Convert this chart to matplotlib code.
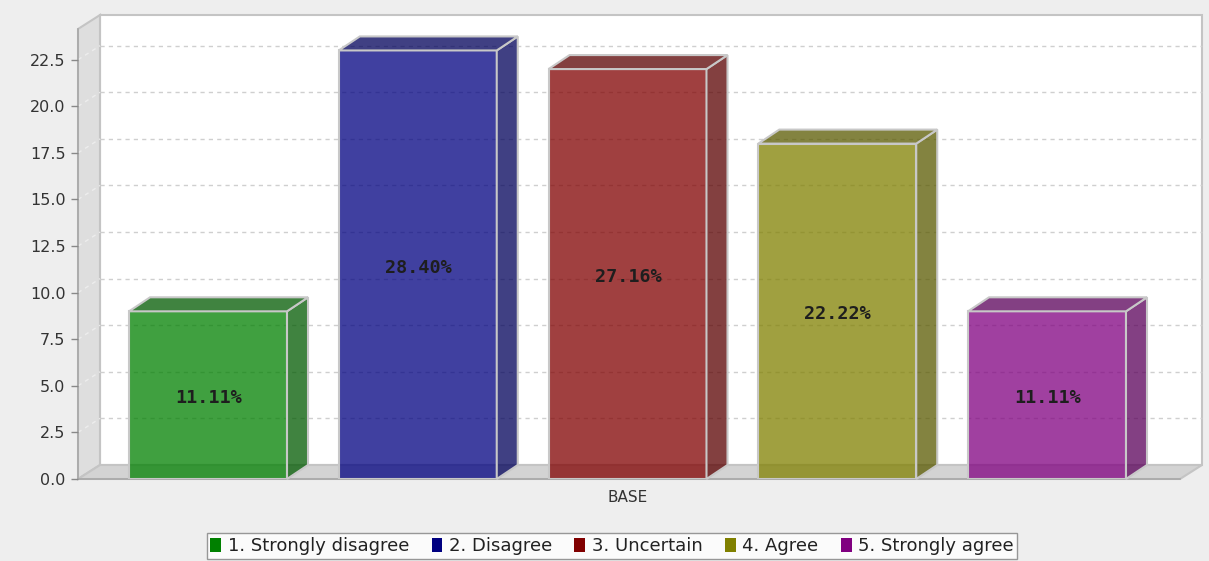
import matplotlib
matplotlib.use("Agg")
import matplotlib.pyplot as plt
from matplotlib.patches import Polygon, Patch
from matplotlib.colors import to_rgba
import matplotlib.transforms as mtransforms
import numpy as np

# ---- data ----
category = "BASE"
series_names = ["1. Strongly disagree", "2. Disagree", "3. Uncertain", "4. Agree", "5. Strongly agree"]
values = [9, 23, 22, 18, 9]
series_colors = ["#008000", "#000080", "#800000", "#808000", "#800080"]
y_ticks = [0.0, 2.5, 5.0, 7.5, 10.0, 12.5, 15.0, 17.5, 20.0, 22.5]

total = sum(values)
pct_labels = ["{:.2f}%".format(v / total * 100) for v in values]

W, H = 1209, 561
fig = plt.figure(figsize=(W / 100, H / 100), dpi=100)
fig.patch.set_facecolor("#EEEEEE")

# front plane of the 3D plot
ax_l, ax_r, ax_b, ax_t = 78, 1180, 479, 29
ax = fig.add_axes([ax_l / W, (H - ax_b) / H, (ax_r - ax_l) / W, (ax_b - ax_t) / H])
ax.patch.set_visible(False)
for s in ax.spines.values():
    s.set_visible(False)

x0, x1 = -0.62, 4.634
ymax = 24.15
ax.set_xlim(x0, x1)
ax.set_ylim(0, ymax)

ddx = 21 * (x1 - x0) / (ax_r - ax_l)
ddy = 14 * ymax / (ax_b - ax_t)
wall_ddx = 22 * (x1 - x0) / (ax_r - ax_l)

edge_gray = "#C4C4C4"

# back wall
ax.add_patch(Polygon([(x0 + wall_ddx, ddy), (x1 + wall_ddx, ddy), (x1 + wall_ddx, ymax + ddy),
                      (x0 + wall_ddx, ymax + ddy)], closed=True, facecolor="white",
                     edgecolor=edge_gray, lw=1.5, zorder=0.3, clip_on=False))
# left wall
ax.add_patch(Polygon([(x0, 0), (x0 + wall_ddx, ddy), (x0 + wall_ddx, ymax + ddy), (x0, ymax)],
                     closed=True, facecolor="#DEDEDE", edgecolor=edge_gray, lw=1.5,
                     zorder=0.4, clip_on=False))
# floor
ax.add_patch(Polygon([(x0, 0), (x1, 0), (x1 + wall_ddx, ddy), (x0 + wall_ddx, ddy)],
                     closed=True, facecolor="#D3D3D3", edgecolor=edge_gray, lw=1.5,
                     zorder=0.5, clip_on=False))

# gridlines
for v in y_ticks[1:]:
    ax.plot([x0 + wall_ddx, x1 + wall_ddx], [v + ddy, v + ddy], color="#CFCFCF", lw=1,
            ls=(0, (3, 3)), zorder=0.6, clip_on=False)
    ax.plot([x0, x0 + wall_ddx], [v, v + ddy], color="#EDEDED", lw=1,
            ls=(0, (3, 3)), zorder=0.6, clip_on=False)

# front axis lines
ax.plot([x0, x0], [0, ymax], color="#A8A8A8", lw=1.2, zorder=0.7, clip_on=False)
ax.plot([x0, x1], [0, 0], color="#A8A8A8", lw=1.2, zorder=0.7, clip_on=False)

# bars
width = 0.753
xs = np.arange(len(values))
alpha = 0.75
face = [to_rgba(c, alpha) for c in series_colors]
ax.bar(xs, values, width=width, color=face, edgecolor="#C8C8C8", linewidth=1.5, zorder=2)

def darker(c, f=0.7):
    r, g, b, _ = to_rgba(c)
    return (r * f, g * f, b * f, alpha)

for xi, h, c in zip(xs, values, series_colors):
    left, right = xi - width / 2, xi + width / 2
    ax.add_patch(Polygon([(right, 0), (right + ddx, ddy), (right + ddx, h + ddy), (right, h)],
                         closed=True, facecolor=darker(c), edgecolor="#C8C8C8", lw=1.5,
                         zorder=2.1, clip_on=False))
    ax.add_patch(Polygon([(left, h), (right, h), (right + ddx, h + ddy), (left + ddx, h + ddy)],
                         closed=True, facecolor=darker(c), edgecolor="#C8C8C8", lw=1.5,
                         zorder=2.1, clip_on=False))

lab_tr = mtransforms.offset_copy(ax.transData, fig=fig, x=0.5, y=-3, units="dots")
for xi, h, lab in zip(xs, values, pct_labels):
    ax.text(xi, h / 2, lab, ha="center", va="center", fontsize=13.3, transform=lab_tr,
            family="DejaVu Sans Mono", fontweight="bold", color="#1E1E1E", zorder=3)

# ticks
ax.set_yticks(y_ticks)
ax.set_yticklabels(["{:.1f}".format(t) for t in y_ticks])
ax.tick_params(axis="y", length=5, width=1, color="#888888", direction="out",
               labelsize=11.5, labelcolor="#333333", pad=4)
ax.set_xticks([(len(values) - 1) / 2])
ax.set_xticklabels([category])
ax.tick_params(axis="x", length=0, labelsize=11, labelcolor="#333333", pad=8)

# legend
handles = [Patch(facecolor=c, edgecolor="none") for c in series_colors]
leg = fig.legend(handles, series_names, loc="center", ncol=5,
                 bbox_to_anchor=(612 / W, (H - 546) / H), bbox_transform=fig.transFigure,
                 fontsize=13, frameon=True, fancybox=False, handlelength=0.6,
                 handleheight=0.85, handletextpad=0.35, columnspacing=1.25, borderpad=0.2,
                 borderaxespad=0)
leg.get_frame().set_edgecolor("#808080")
leg.get_frame().set_linewidth(1.0)
for t in leg.get_texts():
    t.set_color("#222222")

fig.savefig("out.png", dpi=100, facecolor=fig.get_facecolor())
